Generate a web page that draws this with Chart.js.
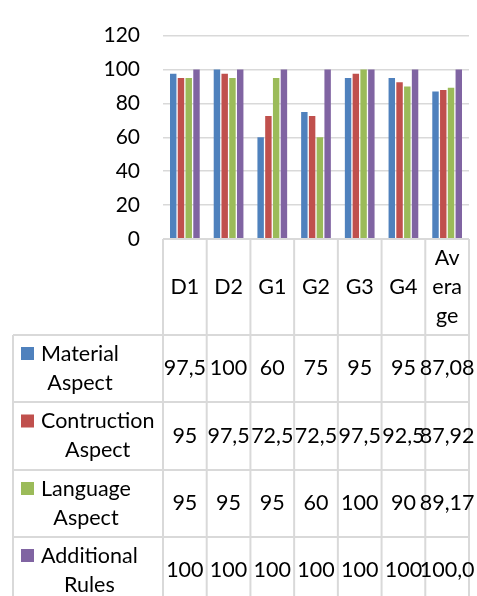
<!DOCTYPE html>
<html>
<head>
<meta charset="utf-8">
<script src="https://cdn.jsdelivr.net/npm/chart.js@4"></script>
<style>
  html, body { margin: 0; padding: 0; background: #fff; }
</style>
</head>
<body>
<canvas id="myChart" width="477" height="596"></canvas>
<script>
const categories = ['D1', 'D2', 'G1', 'G2', 'G3', 'G4', 'Average'];
// how the header cells wrap in the narrow table columns
const categoryLines = [['D1'], ['D2'], ['G1'], ['G2'], ['G3'], ['G4'], ['Av', 'era', 'ge']];
const seriesNames = ['Material Aspect', 'Contruction Aspect', 'Language Aspect', 'Additional Rules'];
const material = [97.5, 100, 60, 75, 95, 95, 87.08];
const construction = [95, 97.5, 72.5, 72.5, 97.5, 92.5, 87.92];
const language = [95, 95, 95, 60, 100, 90, 89.17];
const additional = [100, 100, 100, 100, 100, 100, 100.0];
const yTicks = [0, 20, 40, 60, 80, 100, 120];

const colors = ['#4F81BD', '#C0504D', '#9BBB59', '#8064A2'];
const FONT = 'Lato';
const gridColor = '#d9d9d9';

Chart.defaults.font.family = FONT;
Chart.defaults.color = '#000';

// table text: comma decimal, average column shown with 2 decimals (cut to 5 chars like the cell does)
function fmt(v, col) {
  let s = col === categories.length - 1 ? v.toFixed(2).slice(0, 5) : String(v);
  return s.replace('.', ',');
}

const tablePlugin = {
  id: 'dataTable',
  afterDraw(chart) {
    const ctx = chart.ctx;
    const x = chart.scales.x;
    const area = chart.chartArea;
    const n = categories.length;
    const cw = (area.right - area.left) / n;
    const tableLeft = 13;
    const headerH = 96;
    const rowH = [67, 68, 67, 67];
    const lineH = 29;
    const top = area.bottom;

    const rowTops = [top + headerH];
    rowH.forEach(h => rowTops.push(rowTops[rowTops.length - 1] + h));

    ctx.save();
    ctx.strokeStyle = gridColor;
    ctx.lineWidth = 2;
    ctx.beginPath();
    // header top + vertical lines
    ctx.moveTo(area.left, top); ctx.lineTo(area.right, top);
    for (let i = 0; i <= n; i++) {
      const px = area.left + i * cw;
      ctx.moveTo(px, top); ctx.lineTo(px, rowTops[rowTops.length - 1]);
    }
    rowTops.forEach(y => { ctx.moveTo(tableLeft, y); ctx.lineTo(area.right, y); });
    ctx.moveTo(tableLeft, rowTops[0]); ctx.lineTo(tableLeft, rowTops[rowTops.length - 1]);
    ctx.stroke();

    ctx.fillStyle = '#000';
    ctx.font = '21.5px ' + FONT;
    ctx.textAlign = 'center';
    ctx.textBaseline = 'middle';

    // header cells
    categoryLines.forEach((lines, i) => {
      const cx = x.getPixelForValue(i);
      const cy = top + headerH / 2;
      lines.forEach((t, k) => {
        ctx.fillText(t, cx, cy + (k - (lines.length - 1) / 2) * lineH);
      });
    });

    // data rows
    const series = chart.data.datasets;
    series.forEach((ds, r) => {
      const rTop = rowTops[r];
      const cy = rTop + rowH[r] / 2;
      // legend key
      const lines = seriesNames[r].split(' ');
      const l1 = cy - lineH / 2;
      ctx.fillStyle = colors[r];
      ctx.fillRect(21, l1 - 7, 13, 13);
      ctx.fillStyle = '#000';
      const blockW = Math.max(...lines.map(t => ctx.measureText(t).width));
      lines.forEach((t, k) => {
        ctx.fillText(t, 41 + blockW / 2, cy + (k - (lines.length - 1) / 2) * lineH);
      });
      ds.data.forEach((v, i) => {
        ctx.fillText(fmt(v, i), x.getPixelForValue(i), cy);
      });
    });
    ctx.restore();
  }
};

const data = {
  labels: categories,
  datasets: [material, construction, language, additional].map((vals, i) => ({
    label: seriesNames[i],
    data: vals,
    backgroundColor: colors[i],
    categoryPercentage: 0.71,
    barPercentage: 0.83
  }))
};

const config = {
  type: 'bar',
  data: data,
  options: {
    responsive: false,
    animation: false,
    layout: { padding: { top: 27, right: 8, bottom: 357, left: 0 } },
    plugins: { legend: { display: false }, tooltip: { enabled: false } },
    scales: {
      x: { display: false },
      y: {
        min: yTicks[0],
        max: yTicks[yTicks.length - 1],
        afterBuildTicks: scale => { scale.ticks = yTicks.map(v => ({ value: v })); },
        afterFit: scale => { scale.width = 163; },
        border: { display: false },
        grid: { color: gridColor, lineWidth: 1.5, drawTicks: false },
        ticks: { font: { size: 21 }, padding: 23, color: '#000' }
      }
    }
  },
  plugins: [tablePlugin]
};

const myChart = new Chart(document.getElementById('myChart'), config);
</script>
</body>
</html>
